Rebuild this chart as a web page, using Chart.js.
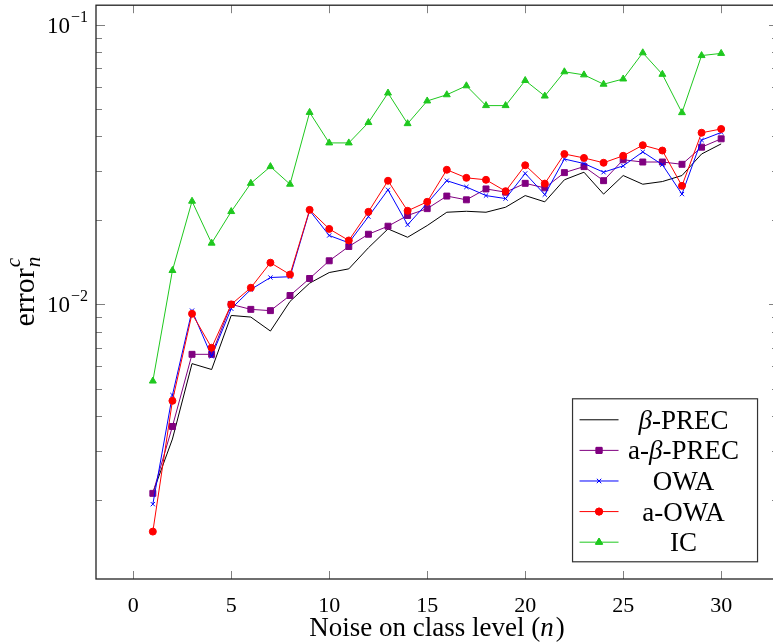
<!DOCTYPE html>
<html>
<head>
<meta charset="utf-8">
<script src="https://cdn.jsdelivr.net/npm/chart.js@4"></script>
<style>
  html, body { margin: 0; padding: 0; overflow: hidden; background: #fff; }
  #wrap { width: 800px; height: 644px; }
</style>
</head>
<body>
<div id="wrap"><canvas id="errChart"></canvas></div>
<script>
const noise = [1, 2, 3, 4, 5, 6, 7, 8, 9, 10, 11, 12, 13, 14, 15, 16, 17, 18, 19, 20, 21, 22, 23, 24, 25, 26, 27, 28, 29, 30];

const betaPrec = [0.00212, 0.0033, 0.00614, 0.00585, 0.00913, 0.00901, 0.00803, 0.01025, 0.01191, 0.0130,
    0.0134, 0.01594, 0.01862, 0.01738, 0.01914, 0.02136, 0.02153, 0.02136, 0.02226, 0.0245,
    0.02327, 0.0279, 0.0297, 0.0248, 0.0289, 0.0269, 0.0275, 0.0289, 0.0345, 0.0375];
const aBetaPrec = [0.00211, 0.00366, 0.00663, 0.00663, 0.0100, 0.00960, 0.00950, 0.01076, 0.01238, 0.01432,
    0.01611, 0.01782, 0.01904, 0.0208, 0.0220, 0.0244, 0.02366, 0.02588, 0.0252, 0.0271,
    0.0261, 0.0296, 0.0311, 0.0277, 0.0329, 0.0323, 0.0323, 0.0317, 0.0365, 0.0391];
const owa = [0.00193, 0.00474, 0.00950, 0.00652, 0.00965, 0.01131, 0.01248, 0.01256, 0.02166, 0.01764,
    0.01661, 0.0206, 0.02569, 0.01926, 0.0230, 0.0277, 0.0263, 0.0245, 0.0239, 0.0294,
    0.0247, 0.0331, 0.0319, 0.0297, 0.0313, 0.0351, 0.0316, 0.0248, 0.0387, 0.0412];
const aOwa = [0.00154, 0.00452, 0.00926, 0.00700, 0.0100, 0.01147, 0.01410, 0.01279, 0.02178, 0.01862,
    0.01693, 0.02143, 0.02768, 0.02161, 0.02327, 0.0303, 0.02835, 0.0279, 0.0254, 0.03145,
    0.02704, 0.0345, 0.0334, 0.0321, 0.0340, 0.0371, 0.0355, 0.02655, 0.0411, 0.0424];
const ic = [0.00532, 0.01322, 0.02339, 0.01656, 0.02148, 0.0271, 0.0311, 0.0269, 0.0486, 0.0378,
    0.0378, 0.0447, 0.0570, 0.0443, 0.0534, 0.0562, 0.0605, 0.0514, 0.0514, 0.0632,
    0.0556, 0.0679, 0.0662, 0.0613, 0.0640, 0.0794, 0.0665, 0.0485, 0.0776, 0.0790];

const xTicks = [0, 5, 10, 15, 20, 25, 30];
const yMajor = [0.01, 0.1];
const yMajorLabels = ['\u22122', '\u22121'];
const yMinor = [0.002, 0.003, 0.004, 0.005, 0.006, 0.007, 0.008, 0.009,
    0.02, 0.03, 0.04, 0.05, 0.06, 0.07, 0.08, 0.09];

const serif = '"Liberation Serif", "DejaVu Serif", serif';

function pts(arr) {
    return noise.map(function (n, i) { return { x: n, y: arr[i] }; });
}

function series(label, arr, color, style, radius, order) {
    return {
        label: label,
        data: pts(arr),
        borderColor: color,
        backgroundColor: color,
        borderWidth: 1,
        pointStyle: style,
        pointRadius: radius,
        pointHoverRadius: radius,
        pointBorderWidth: 1,
        tension: 0,
        order: order
    };
}

const decor = {
    id: 'decor',
    beforeDatasetsDraw(chart) {
        const ctx = chart.ctx;
        const a = chart.chartArea;
        const xs = chart.scales.x, ys = chart.scales.y;
        ctx.save();
        ctx.strokeStyle = '#808080';
        ctx.lineWidth = 1;
        ctx.beginPath();
        xTicks.forEach(function (v) {
            const px = Math.round(xs.getPixelForValue(v)) + 0.5;
            ctx.moveTo(px, a.bottom); ctx.lineTo(px, a.bottom - 8);
            ctx.moveTo(px, a.top); ctx.lineTo(px, a.top + 8);
        });
        yMajor.forEach(function (v) {
            const py = Math.round(ys.getPixelForValue(v)) + 0.5;
            ctx.moveTo(a.left, py); ctx.lineTo(a.left + 9, py);
            ctx.moveTo(a.right, py); ctx.lineTo(a.right - 9, py);
        });
        yMinor.forEach(function (v) {
            const py = Math.round(ys.getPixelForValue(v)) + 0.5;
            ctx.moveTo(a.left, py); ctx.lineTo(a.left + 6, py);
            ctx.moveTo(a.right, py); ctx.lineTo(a.right - 6, py);
        });
        ctx.stroke();
        ctx.restore();
    },
    afterDraw(chart) {
        const ctx = chart.ctx;
        const a = chart.chartArea;
        const xs = chart.scales.x, ys = chart.scales.y;
        ctx.save();
        // frame
        ctx.strokeStyle = '#222';
        ctx.lineWidth = 1.3;
        ctx.strokeRect(a.left, a.top, a.right - a.left, a.bottom - a.top);

        ctx.fillStyle = '#000';
        // x tick labels
        ctx.font = '22px ' + serif;
        ctx.textAlign = 'center';
        ctx.textBaseline = 'alphabetic';
        xTicks.forEach(function (v) {
            ctx.fillText(String(v), xs.getPixelForValue(v), a.bottom + 33);
        });

        // y tick labels 10^k
        yMajor.forEach(function (v, i) {
            const py = ys.getPixelForValue(v);
            const right = a.left - 8;
            ctx.font = '16px ' + serif;
            ctx.textAlign = 'right';
            ctx.fillText(yMajorLabels[i], right, py - 3);
            const w = ctx.measureText(yMajorLabels[i]).width;
            ctx.font = '23px ' + serif;
            ctx.fillText('10', right - w - 1, py + 8);
        });

        // x axis title
        ctx.textAlign = 'left';
        ctx.font = '27px ' + serif;
        const t1 = 'Noise on class level (';
        const t2 = 'n';
        const t3 = ')';
        const w1 = ctx.measureText(t1).width;
        const w3 = ctx.measureText(t3).width;
        ctx.font = 'italic 27px ' + serif;
        const w2 = ctx.measureText(t2).width;
        let x0 = (a.left + a.right) / 2 - (w1 + w2 + w3 + 2) / 2;
        const by = a.bottom + 57;
        ctx.font = '27px ' + serif;
        ctx.fillText(t1, x0, by);
        ctx.font = 'italic 27px ' + serif;
        ctx.fillText(t2, x0 + w1, by);
        ctx.font = '27px ' + serif;
        ctx.fillText(t3, x0 + w1 + w2 + 2, by);

        // y axis title error_n^c
        ctx.save();
        ctx.translate(34, (a.top + a.bottom) / 2);
        ctx.rotate(-Math.PI / 2);
        ctx.font = '30px ' + serif;
        const we = ctx.measureText('error').width;
        ctx.font = 'italic 21px ' + serif;
        const wn = ctx.measureText('n').width;
        let sx = -(we + wn) / 2;
        ctx.font = '30px ' + serif;
        ctx.fillText('error', sx, 0);
        ctx.font = 'italic 21px ' + serif;
        ctx.fillText('n', sx + we + 1, 6);
        ctx.fillText('c', sx + we + 1, -14);
        ctx.restore();

        // legend, south east inside the axis
        const bw = 185, bh = 163;
        const bx = a.right - 0.03 * (a.right - a.left) - bw;
        const bt = a.bottom - 0.03 * (a.bottom - a.top) - bh;
        ctx.fillStyle = '#fff';
        ctx.fillRect(bx, bt, bw, bh);
        ctx.strokeStyle = '#333';
        ctx.lineWidth = 1.2;
        ctx.strokeRect(bx, bt, bw, bh);
        const lf = 27;
        chart.data.datasets.forEach(function (ds, i) {
            const ry = bt + 21 + i * 30.6;
            ctx.strokeStyle = ds.borderColor;
            ctx.lineWidth = 1;
            ctx.beginPath();
            ctx.moveTo(bx + 7, ry);
            ctx.lineTo(bx + 46, ry);
            ctx.stroke();
            if (ds.pointRadius > 0) {
                ctx.fillStyle = ds.backgroundColor;
                Chart.helpers.drawPoint(ctx, {
                    pointStyle: ds.pointStyle, radius: ds.pointRadius, borderWidth: 1, rotation: 0
                }, bx + 26.5, ry);
                ctx.fill();
                ctx.stroke();
            }
            ctx.fillStyle = '#000';
            ctx.textAlign = 'center';
            const cx = bx + 111;
            if (ds.label.indexOf('\u03b2') >= 0) {
                const parts = ds.label.split('\u03b2');
                ctx.font = lf + 'px ' + serif;
                const pa = ctx.measureText(parts[0]).width;
                const pc = ctx.measureText(parts[1]).width;
                ctx.font = 'italic ' + lf + 'px ' + serif;
                const pb = ctx.measureText('\u03b2').width;
                let lx = cx - (pa + pb + pc) / 2;
                ctx.textAlign = 'left';
                ctx.font = lf + 'px ' + serif;
                ctx.fillText(parts[0], lx, ry + 9);
                ctx.font = 'italic ' + lf + 'px ' + serif;
                ctx.fillText('\u03b2', lx + pa, ry + 9);
                ctx.font = lf + 'px ' + serif;
                ctx.fillText(parts[1], lx + pa + pb, ry + 9);
            } else {
                ctx.font = lf + 'px ' + serif;
                ctx.fillText(ds.label, cx, ry + 9);
            }
        });
        ctx.restore();
    }
};

new Chart('errChart', {
    type: 'line',
    data: {
        datasets: [
            series('\u03b2-PREC', betaPrec, '#000000', 'circle', 0, 5),
            series('a-\u03b2-PREC', aBetaPrec, '#800080', 'rect', 4.2, 4),
            series('OWA', owa, '#0000ff', 'crossRot', 3, 3),
            series('a-OWA', aOwa, '#ff0000', 'circle', 3.5, 2),
            series('IC', ic, '#1fc81f', 'triangle', 4, 1)
        ]
    },
    options: {
        responsive: true,
        maintainAspectRatio: false,
        animation: false,
        devicePixelRatio: 1,
        layout: { padding: { left: 96, top: 5, right: 22, bottom: 65 } },
        scales: {
            x: { type: 'linear', min: -1.9, max: 32.9, display: false },
            y: { type: 'logarithmic', min: Math.pow(10, -2.982), max: Math.pow(10, -0.930), display: false }
        },
        plugins: {
            legend: { display: false },
            tooltip: { enabled: false }
        }
    },
    plugins: [decor]
});
</script>
</body>
</html>
